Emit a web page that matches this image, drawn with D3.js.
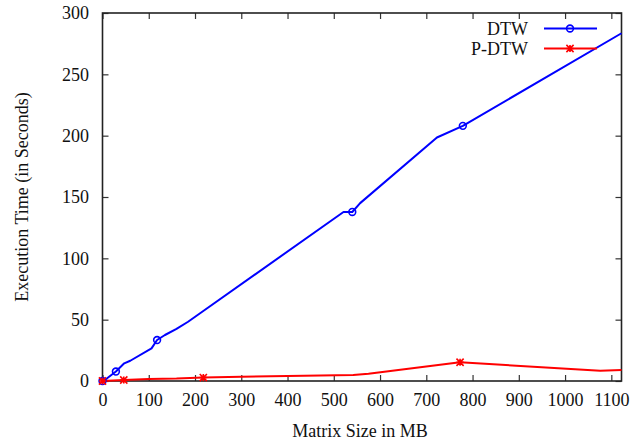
<!DOCTYPE html>
<html>
<head>
<meta charset="utf-8">
<script src="https://cdn.jsdelivr.net/npm/d3@7"></script>
<style>
  html, body { margin: 0; padding: 0; background: #fff; }
  svg { display: block; }
</style>
</head>
<body>
<svg id="chart" width="635" height="443"></svg>
<script>
// Execution time vs. matrix size for the two DTW implementations
const dtwSize   = [0, 10, 29, 47, 60, 106, 118, 135, 160, 185, 211, 521, 540, 557, 723, 779, 1122];
const dtwTime   = [0, 2.2, 7.7, 14.4, 16.5, 26.6, 33.4, 37.5, 42.5, 48.3, 55.2, 137.8, 137.8, 145, 198.5, 208, 283.5];
const dtwMarked = [0, 29, 118, 540, 779];

const pdtwSize   = [0, 46, 100, 160, 218, 300, 400, 542, 575, 773, 1076, 1122];
const pdtwTime   = [0, 0.8, 1.7, 2.0, 2.8, 3.4, 4.1, 4.9, 5.9, 15.3, 8.4, 9];
const pdtwMarked = [0, 46, 218, 773];

const xTicks = [0, 100, 200, 300, 400, 500, 600, 700, 800, 900, 1000, 1100];
const yTicks = [0, 50, 100, 150, 200, 250, 300];
const seriesNames = ["DTW", "P-DTW"];
const seriesColors = ["#0000ff", "#ff0000"];

const FONT = '"Liberation Serif"';
const FSIZE = 18;
const styleText = sel => sel
  .attr("font-family", "Liberation Serif").attr("font-size", FSIZE)
  .style("font-family", FONT).style("font-size", FSIZE + "px").attr("fill", "#111");

const svg = d3.select("#chart");
const L = 102.5, R = 621.5, T = 13, B = 381;

const x = d3.scaleLinear().domain([0, 1122]).range([L, R]);
const y = d3.scaleLinear().domain([0, 300]).range([B, T]);

// Axes with inward ticks, mirrored on top and right
const tickLen = 6;
const fmt = d3.format("d");
const gx = svg.append("g").attr("transform", `translate(0,${B})`)
  .call(d3.axisBottom(x).tickValues(xTicks).tickFormat(fmt).tickSizeInner(-tickLen).tickSizeOuter(0).tickPadding(12.5));
const gy = svg.append("g").attr("transform", `translate(${L},0)`)
  .call(d3.axisLeft(y).tickValues(yTicks).tickFormat(fmt).tickSizeInner(-tickLen).tickSizeOuter(0).tickPadding(13.5));
const gt = svg.append("g").attr("transform", `translate(0,${T})`)
  .call(d3.axisTop(x).tickValues(xTicks).tickSizeInner(-tickLen).tickSizeOuter(0).tickFormat(""));
const gr = svg.append("g").attr("transform", `translate(${R},0)`)
  .call(d3.axisRight(y).tickValues(yTicks).tickSizeInner(-tickLen).tickSizeOuter(0).tickFormat(""));

[gx, gy, gt, gr].forEach(g => {
  g.attr("font-family", null).attr("font-size", null);
  g.select(".domain").remove();
  g.selectAll(".tick line").attr("stroke", "#333").attr("stroke-width", 1.2);
  g.selectAll(".tick text").call(styleText);
});

svg.append("rect")
  .attr("x", L).attr("y", T).attr("width", R - L).attr("height", B - T)
  .attr("fill", "none").attr("stroke", "#222").attr("stroke-width", 1.6);

// Axis titles
svg.append("text")
  .attr("x", 360).attr("y", 437).attr("text-anchor", "middle")
  .call(styleText)
  .text("Matrix Size in MB");
svg.append("text")
  .attr("transform", `translate(28,${(T + B) / 2}) rotate(-90)`)
  .attr("text-anchor", "middle")
  .call(styleText)
  .text("Execution Time (in Seconds)");

const line = d3.line().x(d => x(d[0])).y(d => y(d[1]));

function circleMark(g, cx, cy, color) {
  g.append("circle").attr("cx", cx).attr("cy", cy).attr("r", 3.4)
    .attr("fill", "none").attr("stroke", color).attr("stroke-width", 1.6);
}
function starMark(g, cx, cy, color) {
  const s = 3.6;
  const p = `M${cx - s},${cy}L${cx + s},${cy}M${cx},${cy - s}L${cx},${cy + s}` +
            `M${cx - s},${cy - s}L${cx + s},${cy + s}M${cx - s},${cy + s}L${cx + s},${cy - s}`;
  g.append("path").attr("d", p).attr("stroke", color).attr("stroke-width", 1.6).attr("fill", "none");
}

const series = [
  { sizes: dtwSize, times: dtwTime, marked: dtwMarked, mark: circleMark },
  { sizes: pdtwSize, times: pdtwTime, marked: pdtwMarked, mark: starMark }
];

const plot = svg.append("g");
series.forEach((s, i) => {
  const pts = s.sizes.map((v, k) => [v, s.times[k]]);
  plot.append("path").datum(pts).attr("d", line)
    .attr("fill", "none").attr("stroke", seriesColors[i]).attr("stroke-width", 2)
    .attr("stroke-linejoin", "round");
});
series.forEach((s, i) => {
  s.marked.forEach(m => {
    const k = s.sizes.indexOf(m);
    s.mark(plot, x(s.sizes[k]), y(s.times[k]), seriesColors[i]);
  });
});

// Legend
const legendRows = [35, 55];
series.forEach((s, i) => {
  const base = legendRows[i];
  const ly = base - 6.5;
  svg.append("text").attr("x", 528).attr("y", base).attr("text-anchor", "end")
    .call(styleText).text(seriesNames[i]);
  svg.append("line").attr("x1", 544).attr("x2", 597).attr("y1", ly).attr("y2", ly)
    .attr("stroke", seriesColors[i]).attr("stroke-width", 2);
  s.mark(svg, 570, ly, seriesColors[i]);
});
</script>
</body>
</html>
